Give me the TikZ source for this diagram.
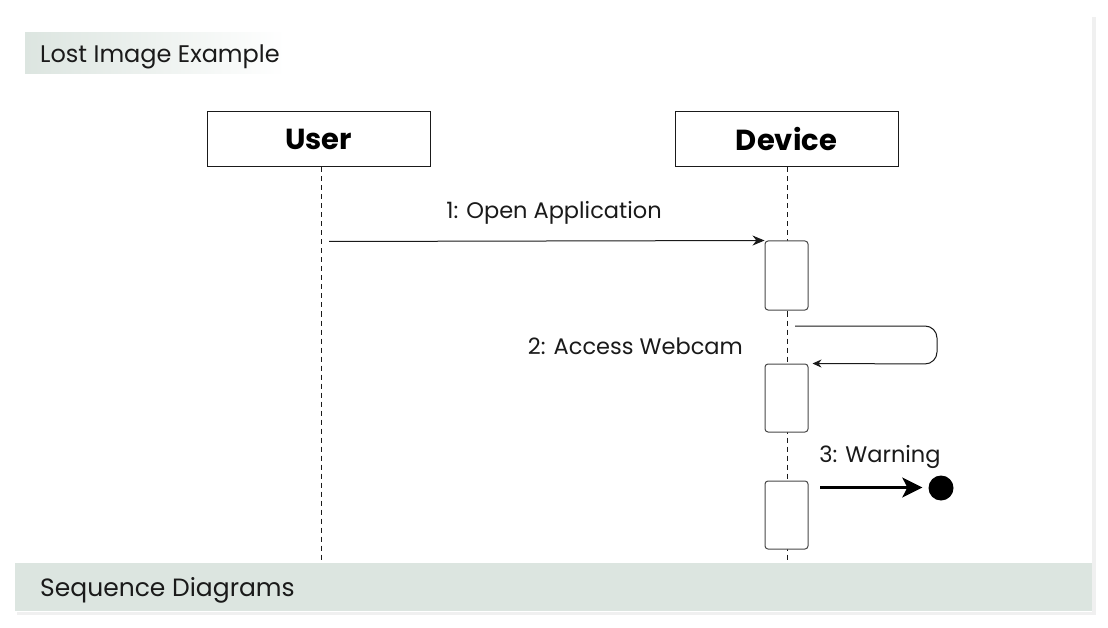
\documentclass[tikz,border=0pt]{standalone}
\usepackage{fontspec}
\setmainfont{Poppins}
\usetikzlibrary{arrows.meta,shadows}
\definecolor{band}{HTML}{DCE5E0}
\definecolor{ink}{HTML}{1A1A1A}
\tikzset{
  x=1pt,y=-1pt,
  actor/.style={draw=ink,line width=1pt,minimum width=223pt,minimum height=55pt,inner sep=0pt,font=\fontsize{29}{32}\selectfont\bfseries},
  life/.style={draw=ink,line width=0.6pt,dash pattern=on 5pt off 4pt},
  act/.style={draw=ink!80,line width=1pt,rounded corners=3pt,fill=white,minimum width=43pt,inner sep=0pt},
  lbl/.style={font=\fontsize{22.5}{26}\selectfont,text=ink,inner sep=0pt},
}
\begin{document}
\begin{tikzpicture}
\useasboundingbox (0,0) rectangle (1108,628);
% card
\fill[black!6] (17,17) rectangle (1096,615);
\fill[white] (15,15) rectangle (1092,612);
% top title band
\shade[left color=band,right color=white] (25,33) rectangle (285,74);
\node[anchor=west,lbl,font=\fontsize{24}{28}\selectfont] (title) at (40,57) {Lost Image Example};
% bottom band
\fill[band] (15,563) rectangle (1092,611);
\node[anchor=west,lbl,font=\fontsize{25}{28}\selectfont] (foot) at (40,590) {Sequence Diagrams};
% actors
\node[actor] (user) at (318.5,139.5) {User};
\node[actor] (dev) at (786.5,139.5) {Device};
\coordinate (uend) at (321,563);
\coordinate (dend) at (787,563);
\draw[life] (user.south -| uend) -- (uend);
\draw[life] (dev.south -| dend) -- (dend);
% activations
\node[act,minimum height=69pt] (a1) at (786.5,275.5) {};
\node[act,minimum height=68pt] (a2) at (786.5,398) {};
\node[act,minimum height=68pt] (a3) at (786.5,515) {};
% message 1
\coordinate (m1s) at (329,241.5);
\draw[draw=ink,line width=1pt,-{Stealth[length=12pt,width=10pt]}] (m1s) -- (a1.north west);
\node[lbl] (l1) at (554,213) {1: Open Application};
% message 2 (self)
\coordinate (m2s) at (795,326);
\draw[draw=ink,line width=1pt,rounded corners=12pt,-{Stealth[length=9pt,width=8pt]}]
  (m2s) -- (937,326) -- (937,364) -- ([xshift=4pt]a2.north east);
\node[lbl,anchor=east] (l2) at (743,346) {2: Access Webcam};
% message 3 (lost)
\node[circle,fill=black,minimum size=25pt,inner sep=0pt] (lost) at (941,488) {};
\coordinate (m3s) at (820,487.5);
\draw[draw=black,line width=2.2pt,-{Stealth[length=20pt,width=20pt,inset=5pt]}] (m3s) -- ([xshift=-6pt]lost.west |- m3s);
\node[lbl] (l3) at (880,457) {3: Warning};
\end{tikzpicture}
\end{document}
